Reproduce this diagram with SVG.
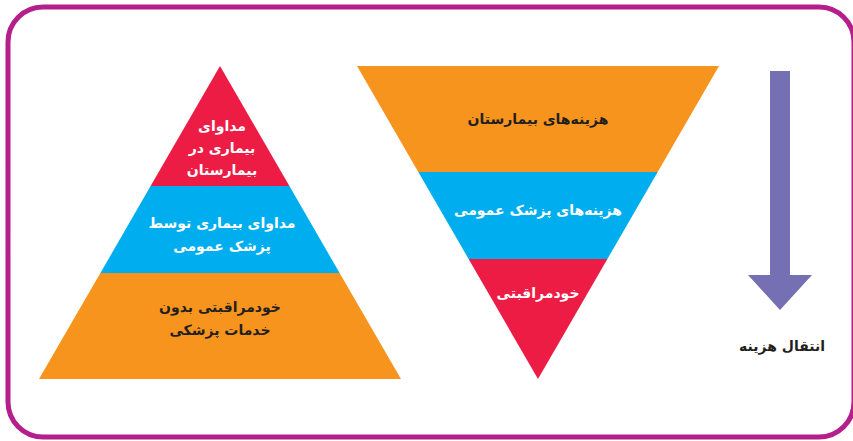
<svg xmlns="http://www.w3.org/2000/svg" width="853" height="441" viewBox="0 0 853 441">
<style>
.t{font-family:"DejaVu Sans",sans-serif;font-weight:bold;font-size:14px;text-anchor:middle;direction:rtl}
.w{fill:#ffffff}
.d{fill:#231f20}
.red{fill:#ec1c45}
.blue{fill:#00aeef}
.orange{fill:#f7941d}
</style>
<rect x="8" y="7" width="846" height="430" rx="35" ry="35" fill="#ffffff" stroke="#b41f8c" stroke-width="5"/>
<g id="pyramid">
<g id="p-top">
<polygon class="red" points="220,66 289.4,186 150.6,186"/>
<text class="t w" x="222" y="131">مداوای</text>
<text class="t w" x="222" y="153">بیماری در</text>
<text class="t w" x="222" y="175">بیمارستان</text>
</g>
<g id="p-mid">
<polygon class="blue" points="150.6,186 289.4,186 339.6,273 100.4,273"/>
<text class="t w" x="222" y="228">مداوای بیماری توسط</text>
<text class="t w" x="222" y="251">پزشک عمومی</text>
</g>
<g id="p-bot">
<polygon class="orange" points="100.4,273 339.6,273 401,379 39,379"/>
<text class="t d" x="220" y="312">خودمراقبتی بدون</text>
<text class="t d" x="220" y="335">خدمات پزشکی</text>
</g>
</g>
<g id="funnel">
<g id="f-top">
<polygon class="orange" points="357,66 719,66 657.7,172 418.3,172"/>
<text class="t d" x="538" y="124">هزینه&#8204;های بیمارستان</text>
</g>
<g id="f-mid">
<polygon class="blue" points="418.3,172 657.7,172 607.4,259 468.6,259"/>
<text class="t w" x="538" y="215">هزینه&#8204;های پزشک عمومی</text>
</g>
<g id="f-bot">
<polygon class="red" points="468.6,259 607.4,259 538,379"/>
<text class="t w" x="538" y="298">خودمراقبتی</text>
</g>
</g>
<g id="connectors">
<polygon fill="#7570b3" points="770,71 790,71 790,275 812,275 780,310 748,275 770,275"/>
</g>
<g id="label">
<text class="t d" x="782" y="351">انتقال هزینه</text>
</g>
</svg>
